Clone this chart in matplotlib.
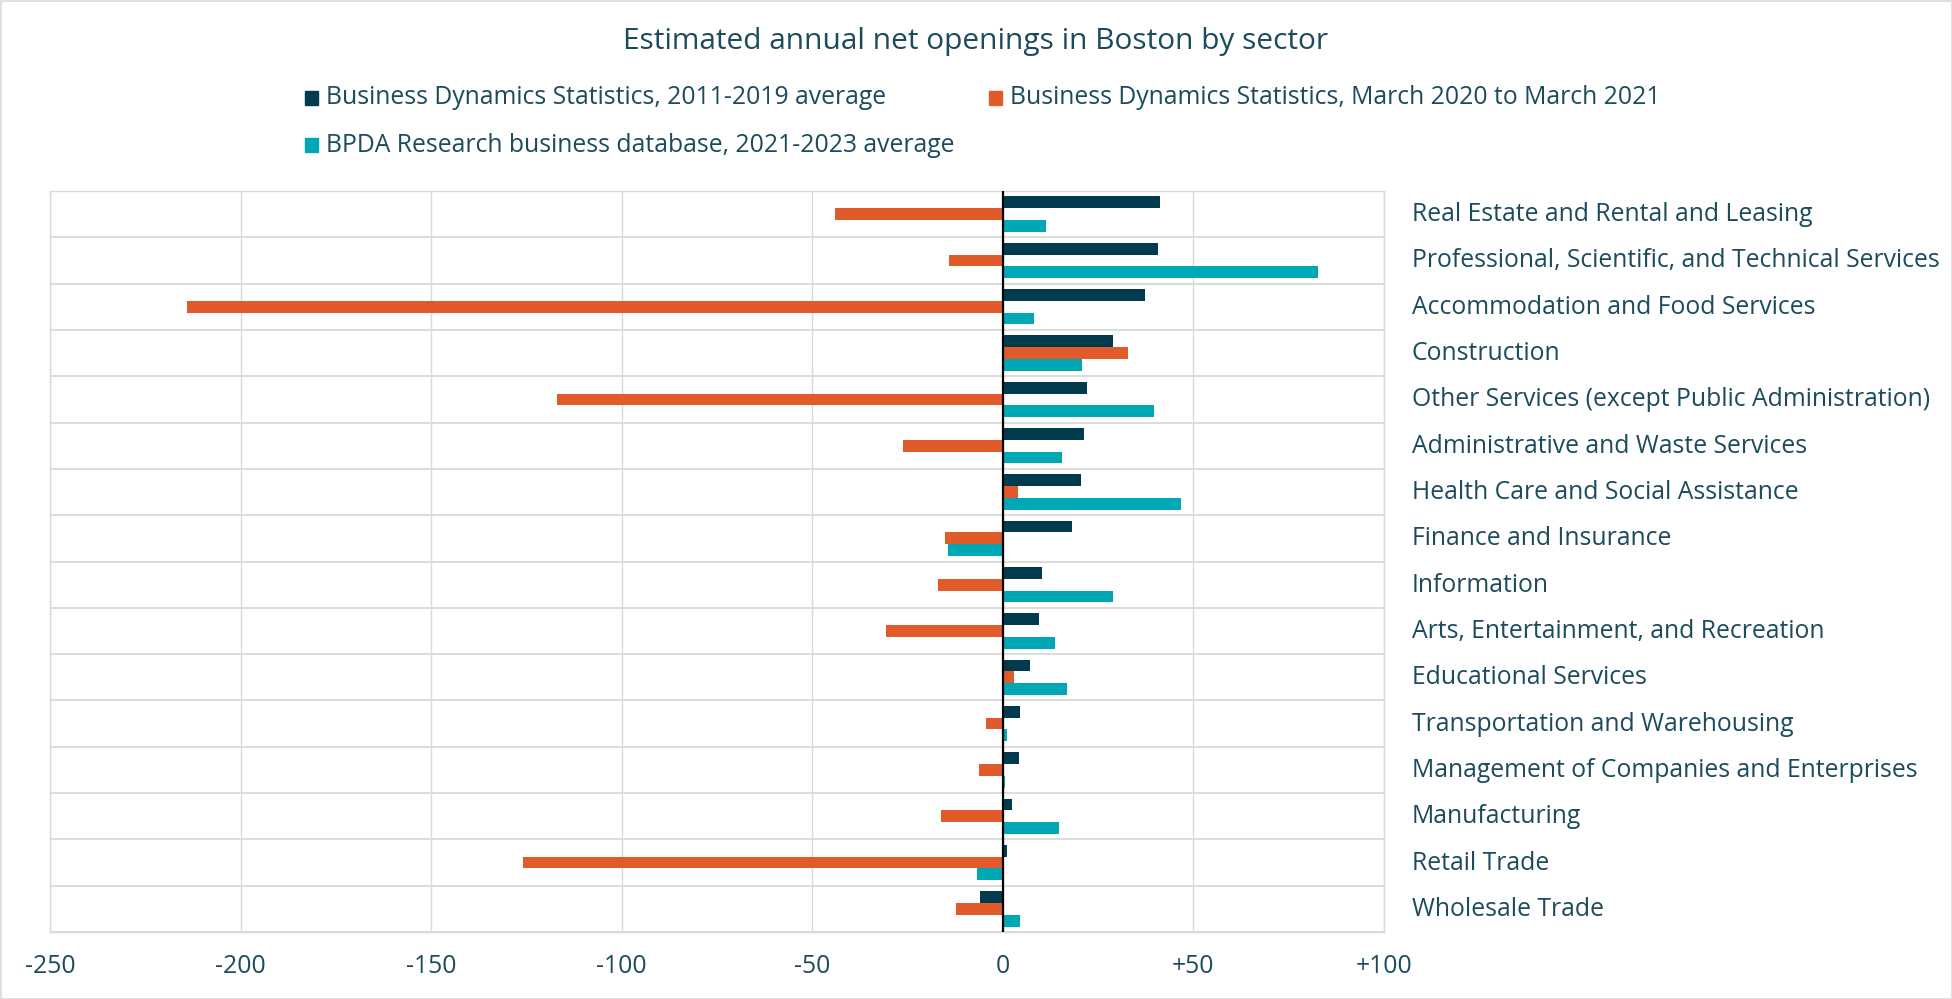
import matplotlib
matplotlib.use("Agg")
import matplotlib.pyplot as plt
from matplotlib.patches import Rectangle
from matplotlib.transforms import ScaledTranslation
import numpy as np

plt.rcParams['font.family'] = ['Open Sans', 'DejaVu Sans']

title = "Estimated annual net openings in Boston by sector"
series_names = [
    "Business Dynamics Statistics, 2011-2019 average",
    "Business Dynamics Statistics, March 2020 to March 2021",
    "BPDA Research business database, 2021-2023 average",
]
categories = [
    "Real Estate and Rental and Leasing",
    "Professional, Scientific, and Technical Services",
    "Accommodation and Food Services",
    "Construction",
    "Other Services (except Public Administration)",
    "Administrative and Waste Services",
    "Health Care and Social Assistance",
    "Finance and Insurance",
    "Information",
    "Arts, Entertainment, and Recreation",
    "Educational Services",
    "Transportation and Warehousing",
    "Management of Companies and Enterprises",
    "Manufacturing",
    "Retail Trade",
    "Wholesale Trade",
]
bds_2011_2019 = [41.3, 40.8, 37.4, 28.8, 22.2, 21.4, 20.6, 18.2, 10.2, 9.4, 7.1, 4.6, 4.3, 2.3, 1.1, -6.0]
bds_2020_2021 = [-44.0, -14.1, -214.0, 32.8, -117.0, -26.1, 4.0, -15.1, -17.1, -30.7, 2.8, -4.3, -6.2, -16.2, -126.0, -12.3]
bpda_2021_2023 = [11.4, 82.7, 8.2, 20.8, 39.7, 15.4, 46.8, -14.5, 28.8, 13.7, 16.8, 1.1, 0.5, 14.8, -6.8, 4.6]
x_ticks = [-250, -200, -150, -100, -50, 0, 50, 100]
x_ticklabels = ["-250", "-200", "-150", "-100", "-50", "0", "+50", "+100"]

colors = ["#023b4e", "#e15a29", "#00a7b4"]
text_color = "#1b4b5c"
grid_color = "#d9d9d9"
fs = 17.8

W, H = 1952, 999
fig = plt.figure(figsize=(W / 100, H / 100), dpi=100)
fig.patch.set_facecolor("white")

# plot area in pixels
L, R, T, B = 50, 1384, 191, 932
ax = fig.add_axes([L / W, 1 - B / H, (R - L) / W, (B - T) / H])

n = len(categories)
y = np.arange(n)
h = 0.255
for k, (vals, col) in enumerate(zip([bds_2011_2019, bds_2020_2021, bpda_2021_2023], colors)):
    ax.barh(y + (k - 1) * h, vals, height=h, color=col, zorder=3, label=series_names[k])

ax.set_xlim(-250, 100)
ax.set_ylim(n - 0.5, -0.5)
ax.set_xticks(x_ticks)
ax.set_xticklabels(x_ticklabels)
ax.set_yticks(y)
ax.set_yticklabels(categories)
ax.yaxis.tick_right()
ax.tick_params(axis='y', length=0, pad=20, labelsize=fs, labelcolor=text_color)
ax.tick_params(axis='x', length=0, pad=16, labelsize=fs, labelcolor=text_color)
shift = ScaledTranslation(0, 2.5 / 100, fig.dpi_scale_trans)
for lab in ax.get_yticklabels():
    lab.set_horizontalalignment('left')
    lab.set_transform(lab.get_transform() + shift)

# gridlines
ax.set_yticks(np.arange(n + 1) - 0.5, minor=True)
ax.tick_params(axis='y', which='minor', length=0)
ax.grid(axis='x', which='major', color=grid_color, linewidth=1.0, zorder=0)
ax.grid(axis='y', which='minor', color=grid_color, linewidth=1.3, zorder=0)
ax.grid(axis='y', which='major', visible=False)
for s in ax.spines.values():
    s.set_color(grid_color)
    s.set_linewidth(1.0)
ax.axvline(0, color="black", linewidth=1.6, zorder=4)

# title
fig.text(0.5, 1 - 41 / H, title, ha='center', va='center', fontsize=21.5, color=text_color)

# legend (manual layout)
leg_items = [(305, 98), (989, 98), (305, 145)]
sq = 13
for (lx, ly), col, name in zip(leg_items, colors, series_names):
    fig.patches.append(Rectangle((lx / W, 1 - (ly + sq / 2) / H), sq / W, sq / H,
                                 transform=fig.transFigure, color=col, figure=fig))
    fig.text((lx + sq + 8) / W, 1 - ly / H, name, ha='left', va='center',
             fontsize=fs, color=text_color)

# outer chart border
fig.patches.append(Rectangle((0.5 / W, 0.5 / H), (W - 1) / W, (H - 1) / H, transform=fig.transFigure,
                             fill=False, edgecolor=grid_color, linewidth=1.2, figure=fig))

fig.savefig("out.png", dpi=100, facecolor="white")
